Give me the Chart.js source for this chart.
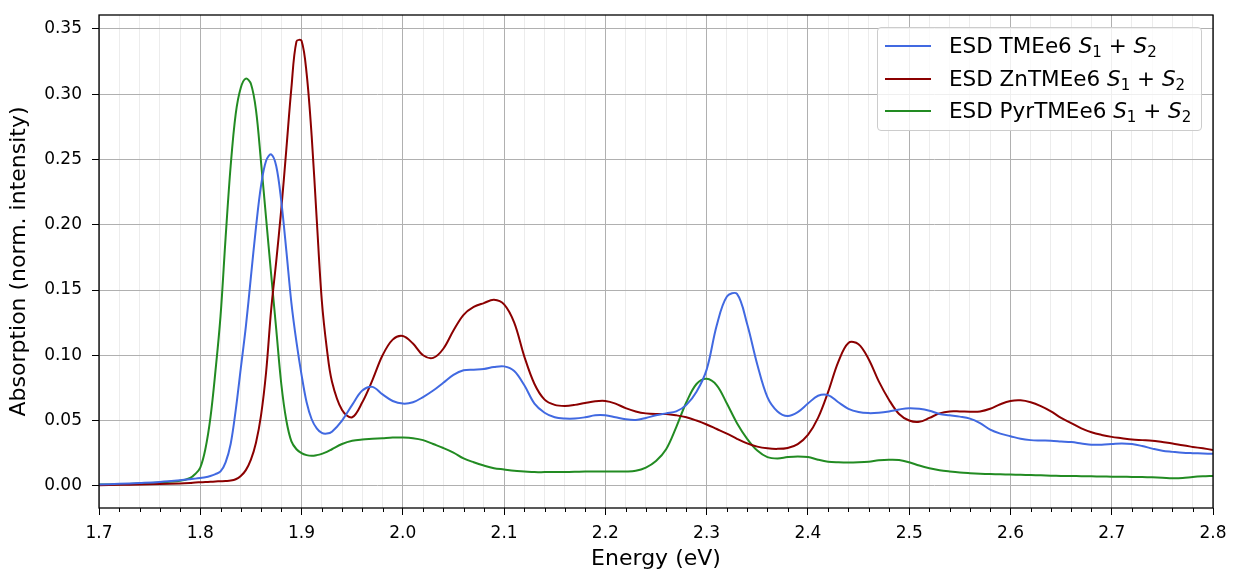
<!DOCTYPE html>
<html>
<head>
<meta charset="utf-8">
<script src="https://cdn.jsdelivr.net/npm/chart.js@4.4.1/dist/chart.umd.min.js"></script>
<style>
  body { margin: 0; background: #fff; }
  #wrap { position: relative; width: 1233px; height: 572px; }
  #legend {
    position: absolute; left: 877px; top: 27px; width: 323px; height: 102px;
    background: rgba(255,255,255,0.8); border: 1px solid #cccccc; border-radius: 4px;
    font-family: 'DejaVu Sans', sans-serif; font-size: 21.5px; color: #000;
  }
  #legend .row { position: absolute; left: 0; height: 30px; line-height: 30px; white-space: nowrap; }
  #legend .sw { position: absolute; left: 7px; top: 14px; width: 46px; height: 2px; }
  #legend .txt { position: absolute; left: 71px; top: 0; }
  #legend i { font-style: italic; }
  #legend sub { font-size: 70%; vertical-align: -0.25em; line-height: 0; }
</style>
</head>
<body>
<div id="wrap">
  <canvas id="absorptionChart"></canvas>
  <div id="legend"></div>
</div>
<script>
// energy grid (eV), denser around the main peaks
const energy = [
  1.70, 1.72, 1.74, 1.76, 1.78, 1.79, 1.795, 1.80, 1.805, 1.81, 1.815, 1.82,
  1.825, 1.83, 1.835, 1.84, 1.845, 1.85, 1.855, 1.86, 1.865, 1.87, 1.875, 1.88, 1.885, 1.89, 1.895, 1.90, 1.905, 1.91, 1.915, 1.92, 1.925,
  1.93, 1.94, 1.95, 1.96, 1.97, 1.98, 1.99, 2.00,
  2.01, 2.02, 2.03, 2.04, 2.05, 2.06, 2.07, 2.08, 2.09, 2.10,
  2.11, 2.12, 2.13, 2.14, 2.15, 2.16, 2.17, 2.18, 2.19, 2.20,
  2.21, 2.22, 2.23, 2.24, 2.25, 2.26, 2.27, 2.28, 2.29, 2.30,
  2.31, 2.32, 2.33, 2.34, 2.35, 2.36, 2.37, 2.38, 2.39, 2.40,
  2.41, 2.42, 2.43, 2.44, 2.45, 2.46, 2.47, 2.48, 2.49, 2.50,
  2.51, 2.52, 2.53, 2.54, 2.55, 2.56, 2.57, 2.58, 2.59, 2.60,
  2.61, 2.62, 2.63, 2.64, 2.65, 2.66, 2.67, 2.68, 2.69, 2.70,
  2.71, 2.72, 2.73, 2.74, 2.75, 2.76, 2.77, 2.78, 2.79, 2.80
];

const tmee6 = [
  0.001, 0.0015, 0.0022, 0.003, 0.0042, 0.005, 0.0055, 0.006, 0.0065, 0.0075, 0.009, 0.011,
  0.018, 0.032, 0.058, 0.090, 0.122, 0.160, 0.198, 0.230, 0.249, 0.254, 0.245, 0.218, 0.180, 0.140, 0.110, 0.085, 0.064, 0.051, 0.044, 0.0405, 0.040,
  0.0415, 0.050, 0.062, 0.073, 0.0758, 0.070, 0.065, 0.063,
  0.064, 0.068, 0.073, 0.079, 0.085, 0.0885, 0.089, 0.0895, 0.091, 0.0915,
  0.088, 0.077, 0.063, 0.056, 0.0525, 0.0515, 0.0515, 0.0525, 0.054, 0.054,
  0.0525, 0.051, 0.0505, 0.052, 0.054, 0.0555, 0.057, 0.062, 0.072, 0.089,
  0.123, 0.145, 0.147, 0.124, 0.093, 0.068, 0.057, 0.0535, 0.0565, 0.063,
  0.069, 0.0695, 0.064, 0.059, 0.0565, 0.0557, 0.056, 0.057, 0.0585, 0.0595,
  0.059, 0.0575, 0.055, 0.054, 0.053, 0.0515, 0.048, 0.043, 0.040, 0.038,
  0.036, 0.035, 0.0347, 0.0345, 0.034, 0.0335, 0.0325, 0.0315, 0.0315, 0.032,
  0.0325, 0.032, 0.0305, 0.0285, 0.0268, 0.026, 0.0253, 0.025, 0.0248, 0.0245
];

const zntmee6 = [
  0.0005, 0.0008, 0.001, 0.0013, 0.0018, 0.0022, 0.0025, 0.0027, 0.0029, 0.0031, 0.0033, 0.0035,
  0.0037, 0.004, 0.005, 0.0075, 0.012, 0.020, 0.033, 0.054, 0.087, 0.135, 0.172, 0.212, 0.258, 0.305, 0.3405, 0.341, 0.316, 0.268, 0.204, 0.142, 0.105,
  0.080, 0.058, 0.0525, 0.064, 0.081, 0.100, 0.112, 0.1148,
  0.109, 0.100, 0.098, 0.105, 0.119, 0.131, 0.137, 0.140, 0.1425, 0.139,
  0.125, 0.099, 0.078, 0.066, 0.062, 0.0612, 0.062, 0.0635, 0.0648, 0.065,
  0.063, 0.0595, 0.057, 0.0555, 0.055, 0.055, 0.054, 0.0525, 0.050, 0.047,
  0.0435, 0.040, 0.036, 0.0325, 0.030, 0.0287, 0.0283, 0.029, 0.032, 0.039,
  0.052, 0.072, 0.095, 0.1095, 0.1085, 0.097, 0.080, 0.066, 0.055, 0.050,
  0.049, 0.052, 0.0555, 0.057, 0.057, 0.0568, 0.057, 0.059, 0.0625, 0.065,
  0.0655, 0.064, 0.061, 0.057, 0.052, 0.048, 0.044, 0.041, 0.039, 0.0375,
  0.0365, 0.0355, 0.035, 0.0345, 0.0335, 0.0325, 0.031, 0.0298, 0.0287, 0.0275
];

const pyrtmee6 = [
  0.001, 0.0012, 0.0017, 0.0025, 0.0038, 0.006, 0.009, 0.014, 0.028, 0.052, 0.088, 0.130,
  0.190, 0.245, 0.285, 0.305, 0.312, 0.308, 0.288, 0.248, 0.205, 0.162, 0.120, 0.078, 0.050, 0.034, 0.028, 0.025, 0.0235, 0.023, 0.0235, 0.0245, 0.026,
  0.028, 0.032, 0.0345, 0.0355, 0.036, 0.0365, 0.037, 0.037,
  0.0365, 0.035, 0.032, 0.029, 0.0255, 0.021, 0.018, 0.0155, 0.0135, 0.0125,
  0.0115, 0.011, 0.0105, 0.0105, 0.0105, 0.0105, 0.0107, 0.011, 0.011, 0.011,
  0.011, 0.011, 0.0115, 0.014, 0.019, 0.028, 0.045, 0.064, 0.078, 0.082,
  0.077, 0.063, 0.048, 0.036, 0.027, 0.022, 0.021, 0.022, 0.0225, 0.022,
  0.020, 0.0185, 0.018, 0.0178, 0.018, 0.0185, 0.0195, 0.020, 0.0198, 0.018,
  0.0155, 0.0135, 0.012, 0.011, 0.0102, 0.0097, 0.0093, 0.009, 0.0088, 0.0086,
  0.0084, 0.0082, 0.008, 0.0078, 0.0076, 0.0075, 0.0074, 0.0073, 0.0071, 0.007,
  0.0069, 0.0068, 0.0067, 0.0065, 0.0062, 0.0058, 0.006, 0.0068, 0.0073, 0.0076
];

const seriesNames = ['ESD TMEe6', 'ESD ZnTMEe6', 'ESD PyrTMEe6'];
const seriesColors = ['#4169e1', '#8b0000', '#228b22'];

const xMajorTicks = [1.7, 1.8, 1.9, 2.0, 2.1, 2.2, 2.3, 2.4, 2.5, 2.6, 2.7, 2.8];
const yTicks = [0.00, 0.05, 0.10, 0.15, 0.20, 0.25, 0.30, 0.35];

// minor ticks every 0.02 between the majors
const xMinorTicks = [];
for (let i = 0; i < xMajorTicks.length - 1; i++) {
  for (let k = 1; k < 5; k++) xMinorTicks.push(+(xMajorTicks[i] + k * 0.02).toFixed(2));
}
const isMajor = v => Math.abs(v * 10 - Math.round(v * 10)) < 1e-6;

const FONT = 'DejaVu Sans';

function toPoints(ys) {
  return energy.map((x, i) => ({ x: x, y: ys[i] }));
}

// keep the plot box fixed, ignore label overhang padding
function fixPadding(s) {
  s.paddingTop = 0;
  s.paddingBottom = 0;
  s.paddingLeft = 0;
  s.paddingRight = 0;
}

// black frame + minor tick marks, like matplotlib spines
const framePlugin = {
  id: 'frame',
  afterDraw(chart) {
    const { ctx, chartArea: a } = chart;
    const xs = chart.scales.x;
    ctx.save();
    ctx.strokeStyle = '#000';
    ctx.lineWidth = 1;
    xMinorTicks.forEach(v => {
      const px = Math.round(xs.getPixelForValue(v)) + 0.5;
      ctx.beginPath();
      ctx.moveTo(px, a.bottom);
      ctx.lineTo(px, a.bottom + 4);
      ctx.stroke();
    });
    ctx.lineWidth = 1.3;
    ctx.strokeRect(a.left, a.top, a.right - a.left, a.bottom - a.top);
    ctx.restore();
  }
};

const htmlLegend = {
  id: 'htmlLegend',
  afterUpdate(chart) {
    const box = document.getElementById('legend');
    box.innerHTML = chart.data.datasets.map((ds, i) =>
      '<div class="row" style="top:' + (3 + i * 32.5) + 'px;width:100%">' +
      '<span class="sw" style="background:' + ds.borderColor + '"></span>' +
      '<span class="txt">' + seriesNames[i] + ' <i>S</i><sub>1</sub> + <i>S</i><sub>2</sub></span></div>'
    ).join('');
  }
};

new Chart(document.getElementById('absorptionChart'), {
  type: 'line',
  data: {
    datasets: [
      { label: seriesNames[0] + ' S1 + S2', data: toPoints(tmee6), borderColor: seriesColors[0] },
      { label: seriesNames[1] + ' S1 + S2', data: toPoints(zntmee6), borderColor: seriesColors[1] },
      { label: seriesNames[2] + ' S1 + S2', data: toPoints(pyrtmee6), borderColor: seriesColors[2] }
    ]
  },
  options: {
    responsive: true,
    maintainAspectRatio: false,
    animation: false,
    layout: { padding: { top: 15, right: 20, left: 0, bottom: 0 } },
    elements: {
      line: { borderWidth: 2, tension: 0.35, fill: false },
      point: { radius: 0 }
    },
    plugins: {
      legend: { display: false },
      tooltip: { enabled: false }
    },
    scales: {
      x: {
        type: 'linear',
        min: 1.7,
        max: 2.8,
        afterBuildTicks: s => {
          s.ticks = xMajorTicks.concat(xMinorTicks).sort((a, b) => a - b).map(v => ({ value: v }));
        },
        afterFit: s => { s.height = 64; fixPadding(s); },
        ticks: {
          autoSkip: false,
          maxRotation: 0,
          padding: 8,
          color: '#000',
          font: { family: FONT, size: 17 },
          callback: v => isMajor(v) ? v.toFixed(1) : ''
        },
        grid: {
          color: c => isMajor(c.tick.value) ? '#b0b0b0' : '#ececec',
          tickColor: c => isMajor(c.tick.value) ? '#000' : 'rgba(0,0,0,0)',
          tickLength: 7,
          lineWidth: 1
        },
        border: { display: false },
        title: {
          display: true,
          text: 'Energy (eV)',
          color: '#000',
          font: { family: FONT, size: 22 },
          padding: { top: 0, bottom: 0 }
        }
      },
      y: {
        min: -0.017,
        max: 0.3607,
        afterBuildTicks: s => { s.ticks = yTicks.map(v => ({ value: v })); },
        afterFit: s => { s.width = 99; fixPadding(s); },
        ticks: {
          padding: 10,
          color: '#000',
          font: { family: FONT, size: 17 },
          callback: v => v.toFixed(2)
        },
        grid: {
          color: '#b0b0b0',
          tickColor: '#000',
          tickLength: 7,
          lineWidth: 1
        },
        border: { display: false },
        title: {
          display: true,
          text: 'Absorption (norm. intensity)',
          color: '#000',
          font: { family: FONT, size: 22 },
          padding: { top: 6, bottom: 0 }
        }
      }
    }
  },
  plugins: [framePlugin, htmlLegend]
});
</script>
</body>
</html>
